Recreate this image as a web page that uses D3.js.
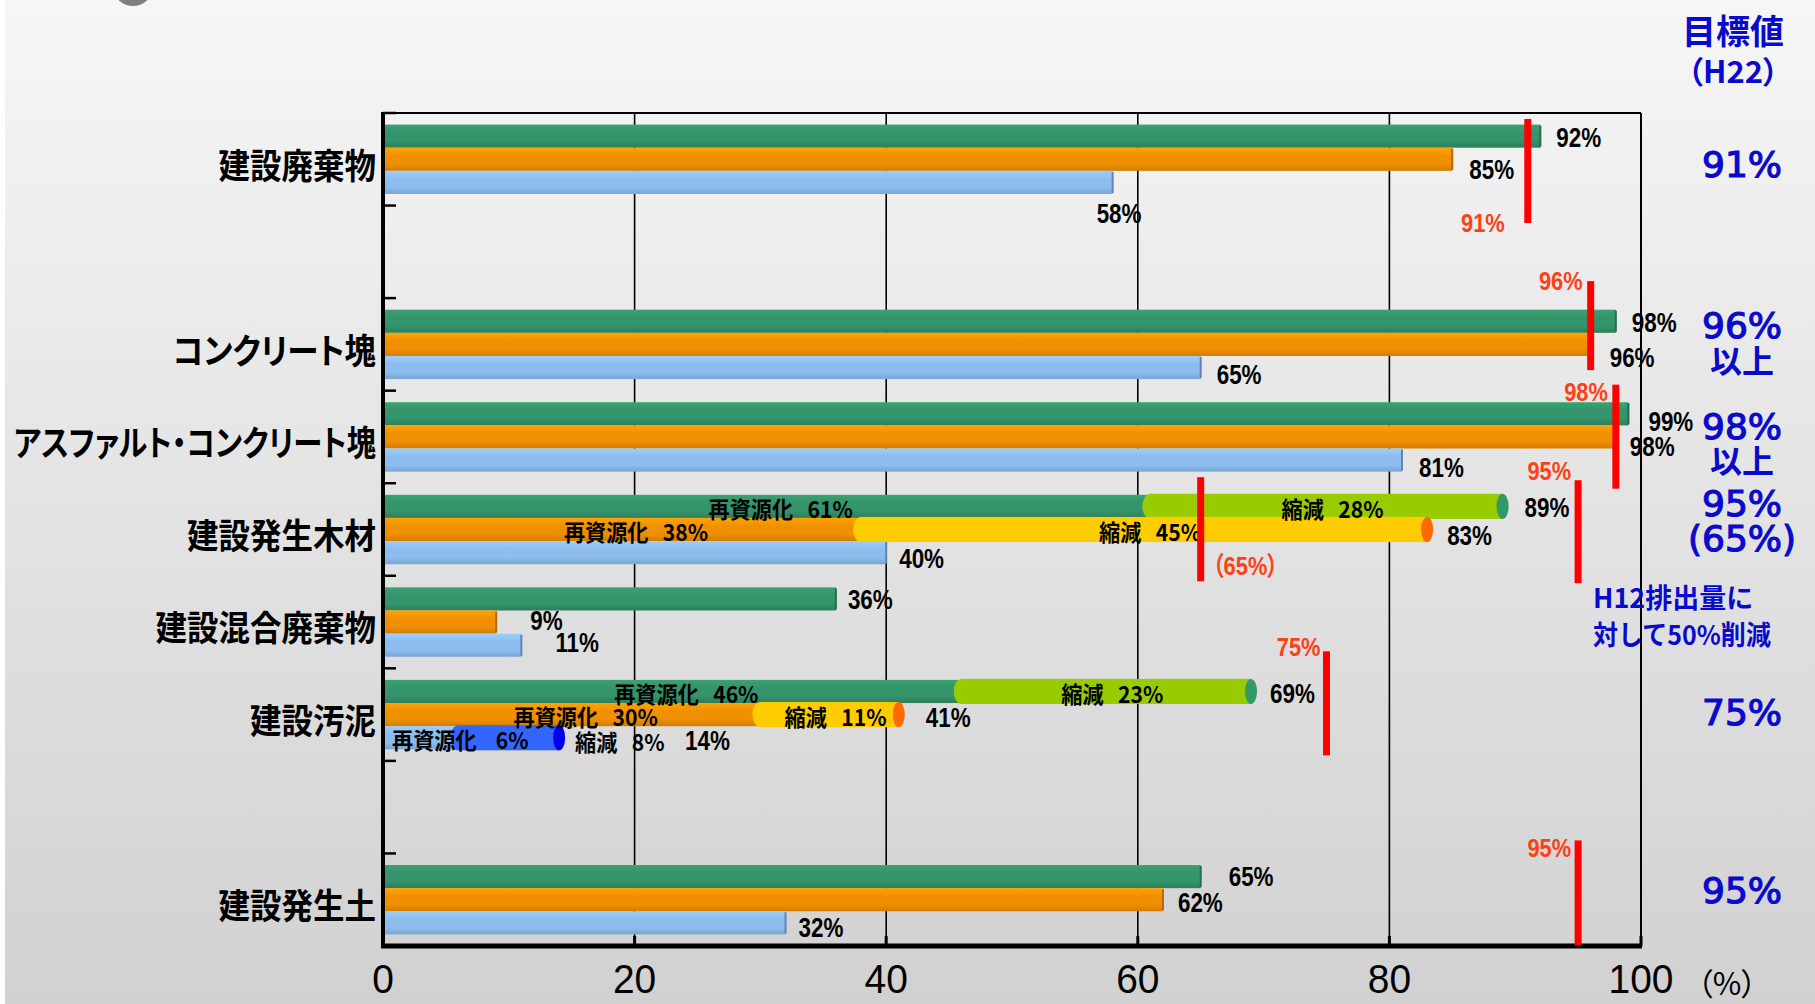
<!DOCTYPE html>
<html><head><meta charset="utf-8">
<script src="https://cdn.jsdelivr.net/npm/d3@7"></script>
<style>body{margin:0;background:#fff;} svg{display:block;}</style>
</head><body>
<svg id="chart" width="1815" height="1004"></svg>
<script>
// Category rows (blank entries are spacer rows)
const categories = ["建設廃棄物", "", "コンクリート塊", "アスファルト・コンクリート塊", "建設発生木材", "建設混合廃棄物", "建設汚泥", "", "建設発生土"];
// Rates (%) for the three survey years, drawn top to bottom in each row
const rateGreen  = [92, null, 98, 99, 89, 36, 69, null, 65];
const rateOrange = [85, null, 96, 98, 83,  9, 41, null, 62];
const rateBlue   = [58, null, 65, 81, 40, 11, 14, null, 32];
// 再資源化 share where the rate is split into 再資源化 + 縮減
const recycleGreen  = [null, null, null, null, 61, null, 46, null, null];
const recycleOrange = [null, null, null, null, 38, null, 30, null, null];
const recycleBlue   = [null, null, null, null, null, null, 6, null, null];
// Target markers (red)
const targetCat   = [0, 2, 3, 4, 4, 6, 8];
const targetVal   = [91, 96, 98, 65, 95, 75, 95];
const targetLabel = ["91%", "96%", "98%", "（65%）", "95%", "75%", "95%"];
// 目標値 column
const goalCat  = [0, 2, 3, 4, 5, 6, 8];
const goalText = [["91%"], ["96%", "以上"], ["98%", "以上"], ["95%", "(65%)"], ["H12排出量に", "対して50%削減"], ["75%"], ["95%"]];
const xTicks = [0, 20, 40, 60, 80, 100];

// ---- layout ----
const W = 1815, H = 1004;
const PL = 383, PR = 1641, PT = 113, PB = 946;
const JP = '"Noto Sans CJK JP", sans-serif';
const NUM = '"Liberation Sans", "Noto Sans CJK JP", sans-serif';
const WIDE = '"DejaVu Sans", "Noto Sans CJK JP", sans-serif';
const BLUE = "#0a0acc", RED_TXT = "#ff4015";

// label nudges [dx, dy] per row for the total-rate labels
const totalShift = {
  g: [[16,2],null,[16,2],[20,8],[22,1],[12,1],[19,2],null,[28,0]],
  o: [[17,10],null,[19,13],[14,10],[20,6],[34,-1],[27,3],null,[15,3]],
  b: [[-16,31],null,[16,7],[17,8],[13,6],[34,-2],[126,3],null,[13,5]]
};
// red marker extents relative to row top, and label placement
const targetSpan = [[6,110],[-17,72],[-6,98],[-6,98],[-3,100],[-17,87],[-13,92]];
const targetText = [["end",-23,110],["end",-8,-17],["end",-8,1],["start",12,83],["end",-7,-12],["end",-6,-22],["end",-7,-6]];
const goalDy = [[51],[27,61],[36,68],[20,55],[21,57],[44],[37]];

const svg = d3.select("#chart");
const defs = svg.append("defs");

const x = d3.scaleLinear().domain([0, 100]).range([PL, PR]);
const y = d3.scaleBand().domain(d3.range(categories.length)).range([PT, PB])
  .paddingInner(0.25).paddingOuter(0.125);
const rowTop = i => y(i) - y.step() * y.paddingInner() / 2;

const series = [
  {key:"g", rate:rateGreen,  recycle:recycleGreen,  stops:["#3ba271","#34946b","#2d7e59"], edge:"#256e4c", seg:"#99cc00", cap:"#339966"},
  {key:"o", rate:rateOrange, recycle:recycleOrange, stops:["#ffa300","#f09000","#d27c00"], edge:"#b56800", seg:"#ffcc00", cap:"#ff6a00"},
  {key:"b", rate:rateBlue,   recycle:recycleBlue,   stops:["#9dcefb","#8dbdee","#7aa5d4"], edge:"#5e85b3", seg:"#3366ff", cap:"#0000ee"}
];
const ySub = d3.scaleBand().domain(series.map(s => s.key)).range([0, y.bandwidth()]);

function txt(parent, px, py, str, o) {
  const t = parent.append("text")
    .attr("transform", `translate(${px},${py}) scale(${o.sx || 1},1)`)
    .attr("text-anchor", o.anchor || "start")
    .attr("dominant-baseline", "central")
    .style("font-family", o.family)
    .style("font-size", o.size + "px")
    .style("font-weight", o.weight || "bold")
    .style("fill", o.fill || "#000")
    .style("white-space", "pre")
    .text(str);
  if (o.palt) t.style("font-feature-settings", '"palt"');
  if (o.stroke) t.style("stroke", o.fill).style("stroke-width", o.stroke);
  if (o.maxW) {
    const len = t.node().getComputedTextLength();
    if (len * (o.sx || 1) > o.maxW) {
      t.attr("transform", `translate(${px},${py}) scale(${o.maxW / len},1)`);
    }
  }
  return t;
}

// background panel
const bg = defs.append("linearGradient").attr("id", "bgGrad")
  .attr("x1", 0).attr("y1", 0).attr("x2", 0).attr("y2", 1);
bg.append("stop").attr("offset", 0).attr("stop-color", "#f6f6f6");
bg.append("stop").attr("offset", 1).attr("stop-color", "#d1d1d1");
svg.append("rect").attr("x", 0).attr("y", 0).attr("width", W).attr("height", H).attr("fill", "#fff");
svg.append("rect").attr("x", 5).attr("y", 0).attr("width", W - 5).attr("height", H).attr("fill", "url(#bgGrad)");
svg.append("circle").attr("cx", 133).attr("cy", -14).attr("r", 20).attr("fill", "#7f7f7f");

// bar gradients
series.forEach(s => {
  const g = defs.append("linearGradient").attr("id", "grad-" + s.key)
    .attr("x1", 0).attr("y1", 0).attr("x2", 0).attr("y2", 1);
  g.append("stop").attr("offset", 0).attr("stop-color", s.stops[0]);
  g.append("stop").attr("offset", 0.35).attr("stop-color", s.stops[1]);
  g.append("stop").attr("offset", 0.7).attr("stop-color", s.stops[1]);
  g.append("stop").attr("offset", 1).attr("stop-color", s.stops[2]);
});

// grid and frame
const frame = svg.append("g");
xTicks.filter(v => v > 0 && v < 100).forEach(v => {
  frame.append("line").attr("x1", x(v)).attr("x2", x(v)).attr("y1", PT).attr("y2", PB)
    .attr("stroke", "#000").attr("stroke-width", 1.6);
});
frame.append("line").attr("x1", PL).attr("x2", PR).attr("y1", PT).attr("y2", PT).attr("stroke", "#000").attr("stroke-width", 2);
frame.append("line").attr("x1", PR).attr("x2", PR).attr("y1", PT).attr("y2", PB).attr("stroke", "#000").attr("stroke-width", 2);

// bars
const barsG = svg.append("g");
series.forEach(s => {
  categories.forEach((c, i) => {
    const v = s.rate[i];
    if (v == null) return;
    const by = y(i) + ySub(s.key), bh = ySub.bandwidth();
    const r = s.recycle[i];
    const baseEnd = r != null ? r : v;
    barsG.append("rect").attr("x", x(0)).attr("y", by)
      .attr("width", x(baseEnd) - x(0)).attr("height", bh)
      .attr("fill", `url(#grad-${s.key})`);
    if (r == null) {
      barsG.append("line").attr("x1", x(v)).attr("x2", x(v)).attr("y1", by + 1).attr("y2", by + bh - 1)
        .attr("stroke", s.edge).attr("stroke-width", 2);
    } else {
      // 縮減 segment with rounded start and end cap
      barsG.append("ellipse").attr("cx", x(r)).attr("cy", by + bh / 2).attr("rx", 8).attr("ry", bh / 2 + 1).attr("fill", s.seg);
      barsG.append("rect").attr("x", x(r)).attr("y", by - 1).attr("width", x(v) - x(r)).attr("height", bh + 2).attr("fill", s.seg);
      barsG.append("ellipse").attr("cx", x(v)).attr("cy", by + bh / 2).attr("rx", 6).attr("ry", bh / 2 + 1).attr("fill", s.cap);
    }
  });
});

// axes
svg.append("line").attr("x1", PL).attr("x2", PL).attr("y1", PT - 1).attr("y2", PB + 2).attr("stroke", "#000").attr("stroke-width", 4);
svg.append("line").attr("x1", PL - 2).attr("x2", PR + 1).attr("y1", PB).attr("y2", PB).attr("stroke", "#000").attr("stroke-width", 5);
d3.range(categories.length + 1).forEach(i => {
  const ty = PT + i * y.step();
  svg.append("line").attr("x1", PL).attr("x2", PL + 13).attr("y1", ty).attr("y2", ty).attr("stroke", "#000").attr("stroke-width", 2.5);
});
xTicks.forEach(v => {
  svg.append("line").attr("x1", x(v)).attr("x2", x(v)).attr("y1", PB).attr("y2", PB - 10).attr("stroke", "#000").attr("stroke-width", 3);
  txt(svg, x(v), 979, String(v), {family: NUM, size: 41, weight: "normal", anchor: "middle", sx: 0.95});
});
txt(svg, 1727, 981, "（%）", {family: JP, size: 31, weight: "normal", anchor: "middle", palt: true});

// category labels
categories.forEach((c, i) => {
  if (!c) return;
  txt(svg, 376, y(i) + y.bandwidth() / 2 + 4, c, {family: JP, size: 35, anchor: "end", sx: 0.9, palt: true, maxW: 362});
});

// labels on bars
const lab = svg.append("g");
series.forEach(s => {
  categories.forEach((c, i) => {
    const v = s.rate[i];
    if (v == null) return;
    const cy = y(i) + ySub(s.key) + ySub.bandwidth() / 2;
    const r = s.recycle[i];
    const sh = totalShift[s.key][i];
    if (r != null) {
      const red = v - r;
      const rw = x(r) - x(0), sw = x(v) - x(r);
      if (rw > 120) txt(lab, (x(0) + x(r)) / 2 + 14, cy + 1, `再資源化   ${r}%`, {family: JP, size: 23, anchor: "middle", sx: 0.92});
      else txt(lab, x(0) + 9, cy + 1, `再資源化    ${r}%`, {family: JP, size: 23, sx: 0.92});
      if (sw > 120) txt(lab, (x(r) + x(v)) / 2 + 6, cy + 1, `縮減   ${red}%`, {family: JP, size: 23, anchor: "middle", sx: 0.92});
      else txt(lab, x(v) + 16, cy + 3, `縮減   ${red}%`, {family: JP, size: 23, sx: 0.92});
    }
    txt(lab, x(v) + sh[0], cy + sh[1], v + "%", {family: NUM, size: 27, sx: 0.83});
  });
});

// target markers
targetVal.forEach((t, k) => {
  const top = rowTop(targetCat[k]);
  const sp = targetSpan[k], tp = targetText[k];
  svg.append("rect").attr("x", x(t) - 3.5).attr("y", top + sp[0]).attr("width", 7).attr("height", sp[1] - sp[0]).attr("fill", "#ff0000");
  txt(svg, x(t) + tp[1], top + tp[2], targetLabel[k], {family: NUM, size: 26, anchor: tp[0], sx: 0.84, fill: RED_TXT, palt: true});
});

// 目標値 column
txt(svg, 1733, 29, "目標値", {family: JP, size: 34, anchor: "middle", fill: BLUE});
txt(svg, 1733, 69, "（H22）", {family: JP, size: 31, anchor: "middle", fill: BLUE, palt: true});
const hasCJK = s => /[\u3000-\u9fff]/.test(s);
goalText.forEach((lines, k) => {
  const top = rowTop(goalCat[k]);
  lines.forEach((str, j) => {
    if (str.length > 5) {
      txt(svg, 1593, top + goalDy[k][j], str, {family: JP, size: 27, fill: BLUE, maxW: 178});
    } else if (hasCJK(str)) {
      txt(svg, 1742, top + goalDy[k][j], str, {family: JP, size: 32, anchor: "middle", fill: BLUE});
    } else {
      txt(svg, 1742, top + goalDy[k][j], str, {family: WIDE, size: 36, weight: "normal", anchor: "middle", fill: BLUE, stroke: 1.2});
    }
  });
});
</script>
</body></html>
